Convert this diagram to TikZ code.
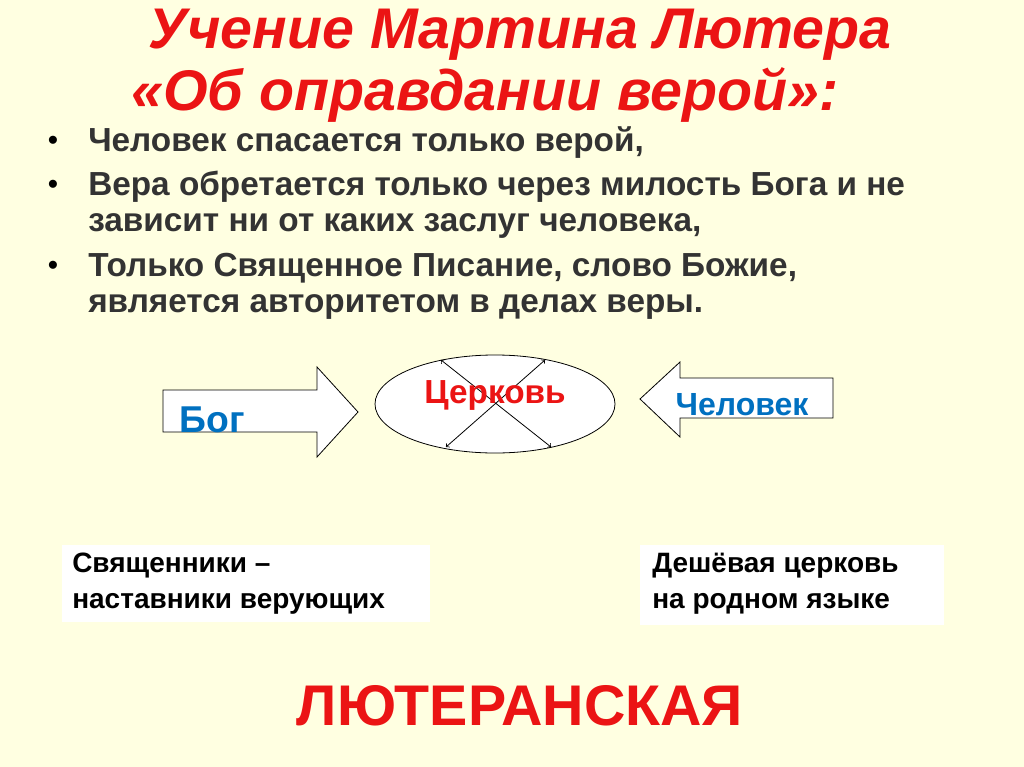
\documentclass[tikz,border=0pt]{standalone}
\usepackage{fontspec}
\setmainfont{Liberation Sans}
\usetikzlibrary{shapes.geometric}
\definecolor{bg}{RGB}{255,255,225}
\definecolor{tred}{RGB}{235,20,20}
\definecolor{tblue}{RGB}{0,112,192}
\begin{document}
\begin{tikzpicture}[x=0.75pt,y=-0.75pt,
  txt/.style={anchor=west,font=\fontsize{25}{30}\selectfont\bfseries,text=black!80,inner sep=0},
  bul/.style={anchor=center,font=\fontsize{21}{25}\selectfont\bfseries,inner sep=0},
  ttl/.style={font=\fontsize{43}{50}\selectfont\bfseries\itshape,text=tred,inner sep=0},
  shp/.style={draw=black,fill=white,line width=0.6pt},
  box/.style={fill=white,draw=none},
  btxt/.style={anchor=west,align=left,font=\fontsize{21}{27}\selectfont\bfseries,inner sep=0}]
\fill[bg] (0,0) rectangle (1024,767);
\useasboundingbox (0,0) rectangle (1024,767);
\node[ttl] (t1) at (520,35) {Учение Мартина Лютера};
\node[ttl] (t2) at (485,95) {«Об оправдании верой»:};
\foreach \y/\s [count=\i] in {143/{Человек спасается только верой,},187/{Вера обретается только через милость Бога и не},226/{зависит ни от каких заслуг человека,},268/{Только Священное Писание, слово Божие,},307/{является авторитетом в делах веры.}}
  \node[txt] (l\i) at (88,\y) {\s};
\foreach \y in {143,187,268} \node[bul] at (53,\y) {•};
\draw[shp] (163,390) -- (317,390) -- (317,367) -- (358,412) -- (317,457) -- (317,432) -- (163,432) -- cycle;
\draw[shp] (833,378) -- (680,378) -- (680,362) -- (640,399) -- (680,437) -- (680,418) -- (833,418) -- cycle;
\node[shp,ellipse,minimum width=180pt,minimum height=73.5pt,inner sep=0] (e) at (495,404) {};
\coordinate (a1) at (441,360); \coordinate (a2) at (551,447);
\coordinate (b1) at (446,447); \coordinate (b2) at (545,360);
\draw[<->,line width=0.6pt] (a1) -- (a2);
\draw[<->,line width=0.6pt] (b1) -- (b2);
\node[font=\fontsize{25}{30}\selectfont\bfseries,text=tred] (c) at (495,395) {Церковь};
\node[font=\fontsize{28}{32}\selectfont\bfseries,text=tblue] (g) at (212,420) {Бог};
\node[font=\fontsize{24}{28}\selectfont\bfseries,text=tblue] (m) at (742,405) {Человек};
\fill[box] (62,545) rectangle (430,622);
\fill[box] (640,545) rectangle (944,625);
\node[btxt] (s1) at (72,584) {Священники –\\наставники верующих};
\node[btxt] (s2) at (652,584) {Дешёвая церковь\\на родном языке};
\node[font=\fontsize{43}{48}\selectfont\bfseries,text=tred] (lt) at (520,706) {ЛЮТЕРАНСКАЯ};
\end{tikzpicture}
\end{document}
